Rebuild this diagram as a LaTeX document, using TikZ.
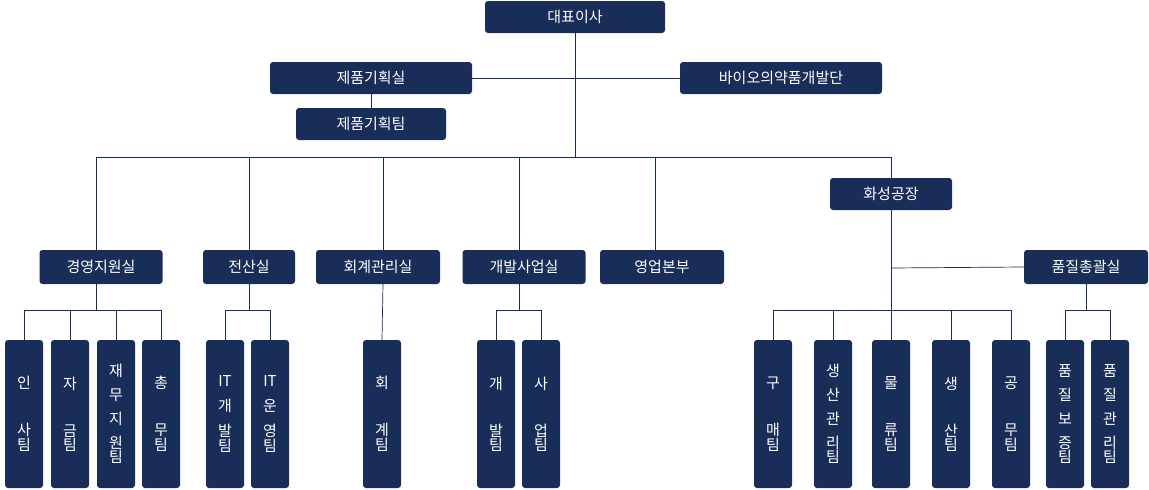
\documentclass[tikz,border=0pt]{standalone}
\usepackage{fontspec}
\setmainfont{Noto Sans CJK KR}
\usetikzlibrary{positioning,backgrounds}
\definecolor{navy}{RGB}{24,45,88}
\tikzstyle{box}=[rectangle, rounded corners=3pt, fill=navy, text=white, font=\fontsize{15}{18}\selectfont, minimum height=32pt, inner sep=0pt]
\tikzstyle{leaf}=[rectangle, rounded corners=3pt, fill=navy, text=white, minimum width=38pt, minimum height=148pt, text width=30pt, align=center, inner sep=0pt]
\tikzstyle{wire}=[draw=navy, line width=0.7pt]
\newcommand{\three}[3]{\fontsize{15}{47}\selectfont #1\\#2\\#3}
\newcommand{\four}[4]{\fontsize{15}{25}\selectfont #1\\#2\\#3\\#4}
\newcommand{\five}[5]{\fontsize{15}{24}\selectfont #1\\#2\\#3\\#4\\#5}
\begin{document}
\begin{tikzpicture}[x=1pt,y=-1pt]
    \useasboundingbox (0,0) rectangle (1149,490);
	% top
	\node [box, minimum width=180pt] (ceo) at (575, 17) {대표이사};
	\node [box, minimum width=202pt] (plan) at (371, 78) {제품기획실};
	\node [box, minimum width=202pt] (bio) at (781, 78) {바이오의약품개발단};
	\node [box, minimum width=150pt] (planteam) at (371, 124) {제품기획팀};
	\node [box, minimum width=122pt] (plant) at (891, 194) {화성공장};
	% second row
	\node [box, minimum width=123pt, minimum height=34pt] (mgmt) at (101, 267) {경영지원실};
	\node [box, minimum width=92pt, minimum height=34pt] (it) at (249, 267) {전산실};
	\node [box, minimum width=124pt, minimum height=34pt] (acc) at (378, 267) {회계관리실};
	\node [box, minimum width=123pt, minimum height=34pt] (dev) at (524, 267) {개발사업실};
	\node [box, minimum width=124pt, minimum height=34pt] (sales) at (662, 267) {영업본부};
	\node [box, minimum width=124pt, minimum height=34pt] (qa) at (1086, 267) {품질총괄실};
	% leaves
	\node [leaf] (l1) at (24, 414) {\three{인}{사}{팀}};
	\node [leaf] (l2) at (70, 414) {\three{자}{금}{팀}};
	\node [leaf] (l3) at (116, 414) {\five{재}{무}{지}{원}{팀}};
	\node [leaf] (l4) at (161, 414) {\three{총}{무}{팀}};
	\node [leaf] (l5) at (225, 414) {\four{IT}{개}{발}{팀}};
	\node [leaf] (l6) at (270, 414) {\four{IT}{운}{영}{팀}};
	\node [leaf] (l7) at (382, 414) {\three{회}{계}{팀}};
	\node [leaf] (l8) at (496, 414) {\three{개}{발}{팀}};
	\node [leaf] (l9) at (541, 414) {\three{사}{업}{팀}};
	\node [leaf] (l10) at (773, 414) {\three{구}{매}{팀}};
	\node [leaf] (l11) at (833, 414) {\five{생}{산}{관}{리}{팀}};
	\node [leaf] (l12) at (891, 414) {\three{물}{류}{팀}};
	\node [leaf] (l13) at (951, 414) {\three{생}{산}{팀}};
	\node [leaf] (l14) at (1011, 414) {\three{공}{무}{팀}};
	\node [leaf] (l15) at (1065, 414) {\five{품}{질}{보}{증}{팀}};
	\node [leaf] (l16) at (1110, 414) {\five{품}{질}{관}{리}{팀}};
	% buses
	\coordinate (bus) at (575, 157);
	\coordinate (b1) at (96, 310);
	\coordinate (b2) at (249, 310);
	\coordinate (b3) at (519, 310);
	\coordinate (b4) at (891, 310);
	\coordinate (b5) at (1086, 310);
	\begin{scope}[on background layer]
	\draw [wire] (ceo.south) to (bus);
	\draw [wire] (plan.east) to (bio.west);
	\draw [wire] (plan.south) to (planteam.north);
	\draw [wire] (96, 157) to (891, 157);
	\draw [wire] (96, 157) to (b1 |- mgmt.north);
	\draw [wire] (249, 157) to (it.north);
	\draw [wire] (383, 157) to (383, 250);
	\draw [wire] (519, 157) to (519, 250);
	\draw [wire] (655, 157) to (655, 250);
	\draw [wire] (891, 157) to (plant.north);
	\draw [wire] (plant.south) to (b4);
	\draw [wire] (891, 268) to (qa.west);
	\draw [wire] (b1 |- mgmt.south) to (b1);
	\draw [wire] (it.south) to (b2);
	\draw [wire] (383, 284) to (l7.north);
	\draw [wire] (b3 |- dev.south) to (b3);
	\draw [wire] (qa.south) to (b5);
	\draw [wire] (l1.north) |- (l4.north |- b1) -- (l4.north);
	\draw [wire] (l2.north) -- (l2.north |- b1);
	\draw [wire] (l3.north) -- (l3.north |- b1);
	\draw [wire] (l5.north) |- (l6.north |- b2) -- (l6.north);
	\draw [wire] (l8.north) |- (l9.north |- b3) -- (l9.north);
	\draw [wire] (l10.north) |- (l14.north |- b4) -- (l14.north);
	\draw [wire] (l11.north) -- (l11.north |- b4);
	\draw [wire] (l12.north) -- (l12.north |- b4);
	\draw [wire] (l13.north) -- (l13.north |- b4);
	\draw [wire] (l15.north) |- (l16.north |- b5) -- (l16.north);
	\end{scope}
\end{tikzpicture}
\end{document}
